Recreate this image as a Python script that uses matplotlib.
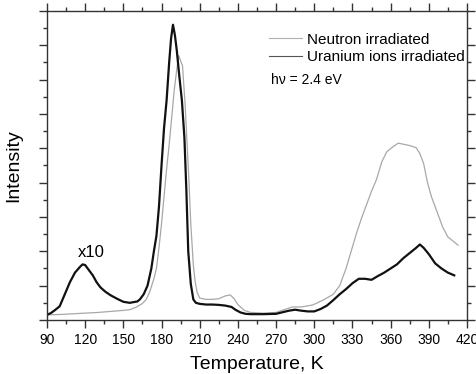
import matplotlib.pyplot as plt
from matplotlib.lines import Line2D
from matplotlib.ticker import MultipleLocator

plt.rcParams['font.family'] = ['Liberation Sans', 'DejaVu Sans']

# Neutron irradiated sample
t_neutron = [90, 100, 110, 120, 130, 140, 150, 155, 160, 165, 168, 171, 174, 176, 178,
             180, 182, 184, 186, 188, 190, 192, 193.5, 195, 196.5, 198.5, 200, 201.5, 203,
             205, 206.5, 208, 210, 215, 220, 225, 230, 234, 237, 240, 245, 250, 260, 270,
             278, 283, 290, 299, 307, 315, 320, 325, 329, 333, 337, 341, 345, 349, 353,
             357, 362, 366, 370, 375, 380, 383, 386, 389, 392, 396, 401, 405, 409, 413]
i_neutron = [0.15, 0.16, 0.18, 0.2, 0.22, 0.25, 0.28, 0.3, 0.37, 0.48, 0.6, 0.85, 1.2, 1.5, 2.1,
             2.8, 3.6, 4.4, 5.1, 5.9, 6.7, 7.3, 7.7, 7.55, 7.4, 6.3, 5.2, 4.1, 2.8,
             1.6, 1.1, 0.8, 0.64, 0.6, 0.6, 0.62, 0.7, 0.73, 0.62, 0.45, 0.28, 0.22, 0.2, 0.22,
             0.32, 0.38, 0.38, 0.44, 0.58, 0.75, 1.0, 1.5, 2.0, 2.5, 2.95, 3.35, 3.75, 4.1, 4.6,
             4.9, 5.05, 5.15, 5.12, 5.08, 5.02, 4.85, 4.55, 4.0, 3.6, 3.2, 2.7, 2.42, 2.3, 2.18]

# Uranium ion irradiated sample (low-T part scaled x10)
t_uranium = [90, 93, 96, 100, 104, 108, 112, 116, 118, 120, 123, 126, 129, 132, 136, 140,
             145, 150, 155, 158, 161, 163, 166, 169, 172, 174, 176, 178, 180, 182, 184, 186,
             187.5, 189, 190.5, 192, 194, 196, 198, 199.5, 201, 203, 205, 207, 210, 215, 220,
             225, 230, 235, 238, 242, 246, 250, 260, 270, 280, 285, 290, 295, 300, 305, 310,
             315, 320, 325, 330, 335, 340, 345, 350, 355, 360, 365, 370, 375, 380, 383, 386,
             390, 395, 400, 405, 410]
i_uranium = [0.15, 0.2, 0.28, 0.4, 0.75, 1.1, 1.38, 1.55, 1.62, 1.6, 1.45, 1.3, 1.1, 0.95, 0.82, 0.72,
             0.62, 0.53, 0.5, 0.52, 0.54, 0.6, 0.75, 1.0, 1.5, 2.0, 2.45, 3.3, 4.5, 5.6, 6.4, 7.5,
             8.2, 8.6, 8.3, 7.85, 7.1, 6.4, 5.3, 3.8, 2.0, 1.05, 0.6, 0.5, 0.47, 0.45, 0.45,
             0.44, 0.42, 0.38, 0.3, 0.22, 0.18, 0.17, 0.17, 0.18, 0.27, 0.3, 0.27, 0.25, 0.25, 0.32, 0.42,
             0.58, 0.75, 0.9, 1.07, 1.2, 1.2, 1.17, 1.28, 1.38, 1.5, 1.62, 1.8, 1.95, 2.1, 2.2, 2.1,
             1.92, 1.65, 1.5, 1.38, 1.3]

x_ticks = list(range(90, 421, 30))

fig = plt.figure(figsize=(4.76, 3.74), dpi=100)
ax = fig.add_axes([0.0987, 0.1444, 0.8823, 0.8262])

ax.plot(t_neutron, i_neutron, color='#a8a8a8', lw=0.9)
ax.plot(t_uranium, i_uranium, color='#111111', lw=1.6)

ax.set_xlim(90, 420)
ax.set_ylim(0, 9)
ax.set_xticks(x_ticks)
ax.xaxis.set_minor_locator(MultipleLocator(15))
ax.yaxis.set_major_locator(MultipleLocator(1))
ax.yaxis.set_minor_locator(MultipleLocator(0.5))
ax.set_yticklabels([])
ax.tick_params(which='both', direction='out', top=True, right=True,
               color='#333333', labelsize=10, width=1)
ax.tick_params(which='major', length=6)
ax.tick_params(which='minor', length=3)
for s in ax.spines.values():
    s.set_color('#333333')
    s.set_linewidth(1)

ax.set_xlabel('Temperature, K', fontsize=14, labelpad=6)
ax.set_ylabel('Intensity', fontsize=14, labelpad=8)

# thin legend handles
handles = [Line2D([], [], color='#b0b0b0', lw=0.8),
           Line2D([], [], color='#555555', lw=0.8)]
ax.legend(handles, ['Neutron irradiated', 'Uranium ions irradiated'],
          loc='upper right', bbox_to_anchor=(0.995, 0.93), frameon=False, fontsize=11,
          handlelength=2.15, handletextpad=0.33, labelspacing=0.22,
          borderpad=0, borderaxespad=0)
ax.text(266, 7.0, 'h\u03bd = 2.4 eV', fontsize=10, va='center')
ax.text(125, 1.98, 'x10', fontsize=12, ha='center', va='center')

fig.savefig('out.png', dpi=100)
